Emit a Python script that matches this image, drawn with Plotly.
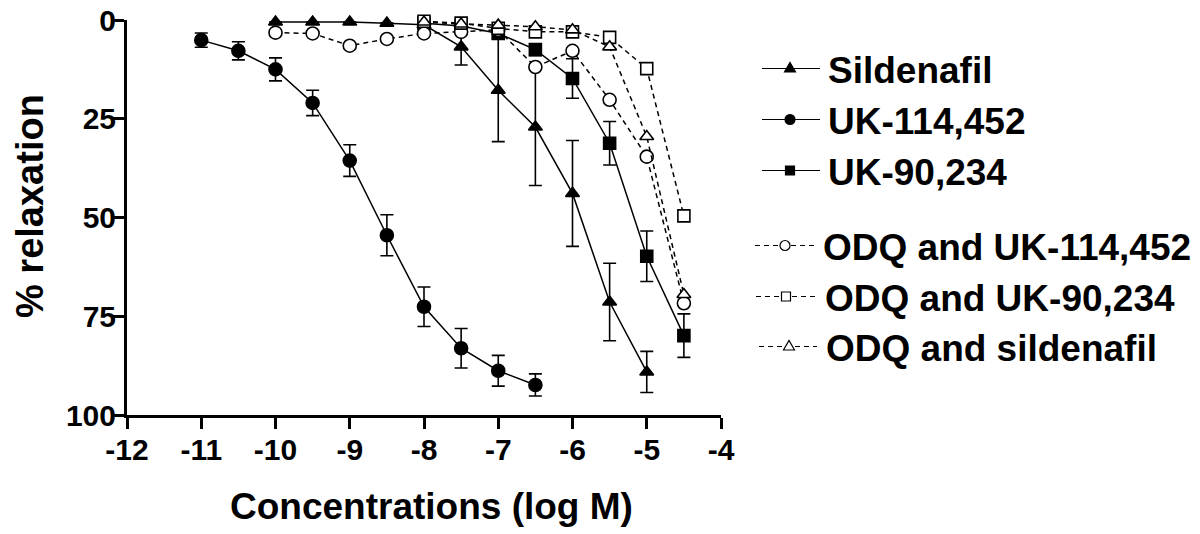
import plotly.graph_objects as go

# ---- data ----
x_sil = [-10, -9.5, -9, -8.5, -8, -7.5, -7, -6.5, -6, -5.5, -5]
y_sil = [0.5, 0.5, 0.5, 0.8, 1.2, 6.8, 17.8, 27.1, 43.9, 71.4, 89.1]
e_sil = [0, 0, 0, 0, 0, 4.6, 13.0, 14.8, 13.4, 9.8, 5.2]

x_uk114 = [-11, -10.5, -10, -9.5, -9, -8.5, -8, -7.5, -7, -6.5]
y_uk114 = [5.1, 7.8, 12.5, 21.0, 35.6, 54.5, 72.6, 83.1, 88.8, 92.4]
e_uk114 = [1.8, 2.3, 2.9, 3.2, 4.0, 5.2, 5.0, 5.0, 3.9, 2.8]

x_uk90 = [-8, -7.5, -7, -6.5, -6, -5.5, -5, -4.5]
y_uk90 = [0.8, 1.5, 3.4, 7.5, 14.8, 31.2, 59.8, 79.9]
e_uk90 = [0.5, 0.8, 1.0, 1.5, 5.0, 5.5, 6.4, 5.5]

x_odq114 = [-10, -9.5, -9, -8.5, -8, -7.5, -7, -6.5, -6, -5.5, -5, -4.5]
y_odq114 = [3.2, 3.4, 6.5, 4.8, 3.4, 3.0, 2.5, 11.9, 7.8, 20.2, 34.6, 71.7]

x_odq90 = [-8, -7.5, -7, -6.5, -6, -5.5, -5, -4.5]
y_odq90 = [0.3, 0.8, 2.1, 3.0, 3.0, 4.4, 12.3, 49.6]

x_odqsil = [-8, -7.5, -7, -6.5, -6, -5.5, -5, -4.5]
y_odqsil = [0.5, 1.0, 1.3, 1.7, 2.5, 6.8, 29.5, 69.5]

names = ["Sildenafil", "UK-114,452", "UK-90,234",
         "ODQ and UK-114,452", "ODQ and UK-90,234", "ODQ and sildenafil"]
x_ticks = [-12, -11, -10, -9, -8, -7, -6, -5, -4]
y_ticks = [0, 25, 50, 75, 100]

FONT = "Liberation Sans, Arial, sans-serif"

# ---- layout geometry (pixels) ----
W, H = 1200, 534
L, R, T, B = 127, 721, 20, 415


def px_x(p):
    return (p - L) / (R - L)


def px_y(p):
    return 1 - (p - T) / (B - T)


fig = go.Figure()

series = [
    (x_sil, y_sil, e_sil, "triangle-up", 12, False),
    (x_uk114, y_uk114, e_uk114, "circle", 13, False),
    (x_uk90, y_uk90, e_uk90, "square", 12, False),
    (x_odq114, y_odq114, None, "circle", 13, True),
    (x_odq90, y_odq90, None, "square", 12, True),
    (x_odqsil, y_odqsil, None, "triangle-up", 12, True),
]

for (x, y, err, symbol, size, dashed), name in zip(series, names):
    kw = {}
    if err is not None:
        kw["error_y"] = dict(type="data", array=err, visible=True, color="black",
                             thickness=1.6, width=6.5)
    fig.add_trace(go.Scatter(
        x=x, y=y, name=name, mode="lines+markers", showlegend=False,
        line=dict(color="black", width=1.5, dash="5px,4px" if dashed else "solid"),
        marker=dict(symbol=symbol, size=size, color="white" if dashed else "black",
                    line=dict(color="black", width=1.6)),
        cliponaxis=False, **kw))

# ---- hand-built legend (keys as shapes, labels as text) ----
legend_rows = [  # (line y, line x0, line x1, marker x, text x)
    (68.5, 762, 820, 790, 826),
    (119.5, 762, 820, 790, 826),
    (170.5, 762, 820, 790, 826),
    (245.5, 755, 815, 785, 821),
    (296.5, 756, 816, 786, 823),
    (346.5, 759, 817, 789, 824),
]
shapes = []
annotations = []
for (ly, lx0, lx1, mx, tx), (_, _, _, symbol, _, dashed), name in zip(
        legend_rows, series, names):
    shapes.append(dict(type="line", xref="paper", yref="paper",
                       x0=px_x(lx0), x1=px_x(lx1), y0=px_y(ly), y1=px_y(ly),
                       line=dict(color="black", width=1.2,
                                 dash="5px,4px" if dashed else "solid")))
    fill = "white" if dashed else "black"
    common = dict(xref="paper", yref="paper", xsizemode="pixel", ysizemode="pixel",
                  xanchor=px_x(mx), yanchor=px_y(ly), fillcolor=fill,
                  line=dict(color="black", width=1.2), layer="above")
    if symbol == "circle":
        shapes.append(dict(type="circle", x0=-5, x1=5, y0=-5, y1=5, **common))
    elif symbol == "square":
        shapes.append(dict(type="rect", x0=-4.5, x1=4.5, y0=-4.5, y1=4.5, **common))
    else:
        shapes.append(dict(type="path", path="M -5.5 -3.5 L 5.5 -3.5 L 0 6 Z", **common))
    annotations.append(dict(text=name, xref="paper", yref="paper",
                            x=px_x(tx), y=px_y(ly + 2), xanchor="left", yanchor="middle",
                            showarrow=False,
                            font=dict(family=FONT, size=37, color="black", weight="bold")))

annotations += [
    dict(text="Concentrations (log M)", xref="paper", yref="paper",
         x=px_x(431), y=px_y(507), xanchor="center", yanchor="middle", showarrow=False,
         font=dict(family=FONT, size=37, color="black", weight="bold")),
    dict(text="% relaxation", xref="paper", yref="paper", textangle=-90,
         x=px_x(29.5), y=px_y(206.5), xanchor="center", yanchor="middle", showarrow=False,
         font=dict(family=FONT, size=38, color="black", weight="bold")),
]

axis_common = dict(showgrid=False, zeroline=False, showline=True, linecolor="black",
                   linewidth=3, ticks="outside", ticklen=11, tickwidth=3,
                   tickcolor="black",
                   tickfont=dict(family=FONT, size=30, color="black", weight="bold"))

fig.update_layout(
    width=W, height=H,
    margin=dict(l=L, r=W - R, t=T, b=H - B, autoexpand=False),
    paper_bgcolor="white", plot_bgcolor="white",
    xaxis=dict(range=[-12, -4], tickvals=x_ticks, ticktext=[str(v) for v in x_ticks],
               ticklabelstandoff=-5, **axis_common),
    yaxis=dict(range=[100, 0], tickvals=y_ticks, ticktext=[str(v) for v in y_ticks],
               ticklabelstandoff=-9, **axis_common),
    showlegend=False,
    shapes=shapes,
    annotations=annotations,
)

fig.write_html("out.html", config={"displayModeBar": False},
               post_script="document.body.style.margin='0';document.body.style.overflow='hidden';")
